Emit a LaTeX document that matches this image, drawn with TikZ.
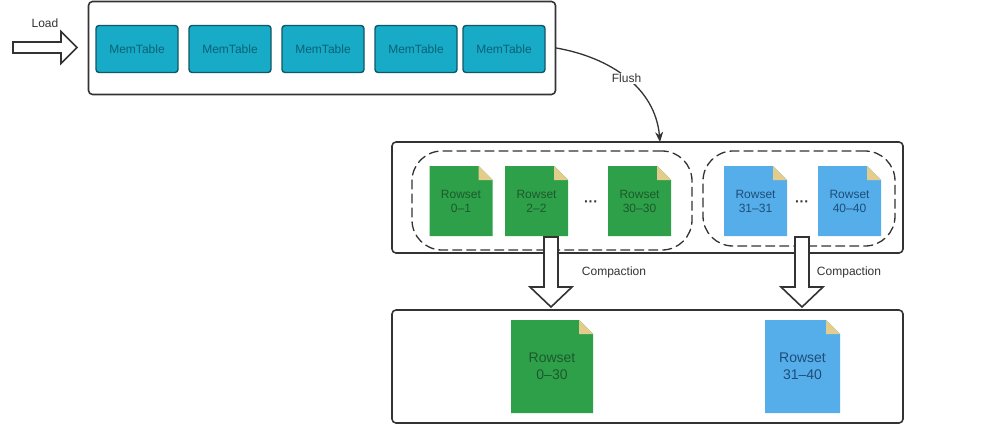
\documentclass[tikz,border=0pt]{standalone}
\usepackage{fontspec}
\setmainfont{Liberation Sans}
\usetikzlibrary{calc,arrows.meta}
\definecolor{memfill}{HTML}{17ABC7}
\definecolor{memline}{HTML}{0F5866}
\definecolor{memtext}{HTML}{0C6275}
\definecolor{rsgreen}{HTML}{2EA04A}
\definecolor{rsgreentext}{HTML}{1C5A2B}
\definecolor{rsblue}{HTML}{55AEEA}
\definecolor{rsbluetext}{HTML}{1D4D78}
\definecolor{foldcol}{HTML}{E4CD8C}
\definecolor{linecol}{HTML}{333333}
\tikzset{
	frame/.style={draw=linecol, line width=1.6pt, rounded corners=4pt, fill=white},
	memtable/.style={draw=memline, line width=1.4pt, fill=memfill, rounded corners=3pt, text=memtext, font=\fontsize{12}{13}\selectfont, minimum width=82pt, minimum height=47pt, inner sep=0pt},
	group/.style={draw=linecol, line width=1.3pt, dash pattern=on 9pt off 5pt, rounded corners=30pt},
	rowset/.style={minimum width=63pt, minimum height=70pt, inner sep=0pt, align=center, font=\fontsize{12}{14}\selectfont,
		path picture={
			\fill[#1] (path picture bounding box.south west) -- (path picture bounding box.south east) -- ([yshift=-14pt]path picture bounding box.north east) -- ([xshift=-14pt]path picture bounding box.north east) -- (path picture bounding box.north west) -- cycle;
			\fill[foldcol] ([xshift=-14pt]path picture bounding box.north east) -- ([yshift=-14pt]path picture bounding box.north east) -- ([xshift=-14pt,yshift=-14pt]path picture bounding box.north east) -- cycle;
		}},
	hollow/.style={draw=linecol, line width=1.6pt, fill=white, line join=miter},
	lbl/.style={text=linecol, font=\fontsize{12}{14}\selectfont},
	dots/.style={text=linecol, font=\fontsize{14}{14}\selectfont\bfseries}
}
\begin{document}
\begin{tikzpicture}[x=1pt, y=-1pt, >={Stealth[length=10pt,width=8pt]}, line join=round, line cap=round]
	\useasboundingbox (0,0) rectangle (998,425);
	% memtables
	\node[frame, minimum width=467pt, minimum height=93pt] (mem) at (322,48) {};
	\node[memtable] (m1) at (137,49) {MemTable};
	\node[memtable] (m2) at (230,49) {MemTable};
	\node[memtable] (m3) at (323,49) {MemTable};
	\node[memtable] (m4) at (416,49) {MemTable};
	\node[memtable] (m5) at (504,49) {MemTable};
	% load
	\path (13,47.5) coordinate (load);
	\draw[hollow] (load) ++(0,-5.5) -- ++(48,0) -- ++(0,-10.5) -- ++(16,16) -- ++(-16,16) -- ++(0,-10.5) -- ++(-48,0) -- cycle;
	\node[lbl] (loadlbl) at (45,23) {Load};
	% rowsets
	\node[frame, minimum width=511pt, minimum height=111pt] (mid) at (647.5,197.5) {};
	\node[group, minimum width=280pt, minimum height=99pt] (g1) at (552,200.5) {};
	\node[group, minimum width=192pt, minimum height=95pt] (g2) at (799,198.5) {};
	\node[rowset=rsgreen, text=rsgreentext] (r1) at (461,201) {Rowset\\0--1};
	\node[rowset=rsgreen, text=rsgreentext] (r2) at (536.5,201) {Rowset\\2--2};
	\node[rowset=rsgreen, text=rsgreentext] (r3) at (639.5,201) {Rowset\\30--30};
	\node[rowset=rsblue, text=rsbluetext] (r4) at (755.5,201) {Rowset\\31--31};
	\node[rowset=rsblue, text=rsbluetext] (r5) at (849.5,201) {Rowset\\40--40};
	\node[dots] (dots1) at (591,204) {···};
	\node[dots] (dots2) at (802,204) {···};
	% flush
	\path (660,142) coordinate (flushend);
	\draw[->, draw=linecol, line width=1.3pt] (mem.east) to[out=-10, in=95] node[lbl, fill=white, inner sep=1pt, pos=0.5] {Flush} (flushend);
	% result
	\node[frame, minimum width=511pt, minimum height=113pt] (res) at (647.5,366.5) {};
	\node[rowset=rsgreen, text=rsgreentext, minimum width=82pt, minimum height=93pt, font=\fontsize{14}{17}\selectfont] (r6) at (552,366.5) {Rowset\\0--30};
	\node[rowset=rsblue, text=rsbluetext, minimum width=75pt, minimum height=93pt, font=\fontsize{14}{17}\selectfont] (r7) at (802.5,366.5) {Rowset\\31--40};
	% compaction
	\path (551,237) coordinate (c1) (802,237) coordinate (c2);
	\foreach \c in {c1,c2}
		\draw[hollow] (\c) ++(-7,0) -- ++(0,50) -- ++(-14,0) -- ++(21,20) -- ++(21,-20) -- ++(-14,0) -- ++(0,-50) -- cycle;
	\node[lbl] (cp1) at (614,272) {Compaction};
	\node[lbl] (cp2) at (849,272) {Compaction};
\end{tikzpicture}
\end{document}
